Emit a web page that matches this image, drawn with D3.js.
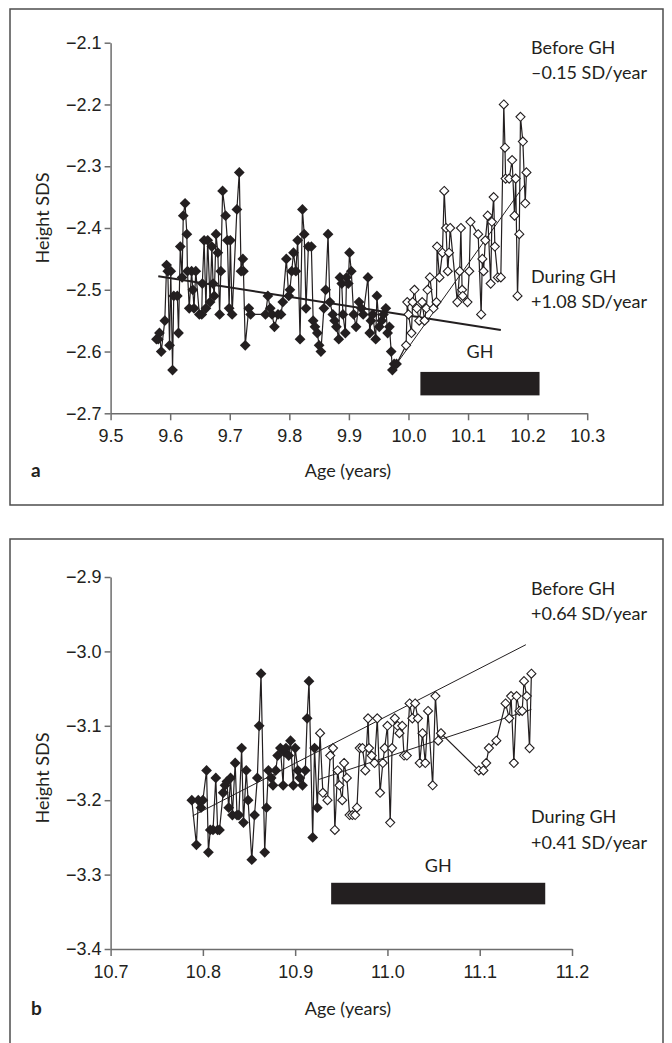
<!DOCTYPE html>
<html>
<head>
<meta charset="utf-8">
<script src="https://cdn.jsdelivr.net/npm/d3@7"></script>
<style>
  body { margin: 0; background: #fff; }
  svg { display: block; font-family: Lato, "Open Sans", sans-serif; }
  .axis path, .axis line { stroke: #6d6d6d; stroke-width: 1.5px; }
  .axis text { font-size: 18px; fill: #231f20; }
  .series { fill: none; stroke: #231f20; stroke-width: 1.2px; }
  .trend { fill: none; stroke: #231f20; }
  .note { font-size: 18px; fill: #231f20; }
</style>
</head>
<body>
<script>

/* Data, panel a */

var a_before_age = [9.577, 9.580, 9.582, 9.585, 9.591, 9.594, 9.596, 9.599, 9.601, 9.604,
    9.606, 9.612, 9.614, 9.617, 9.620, 9.622, 9.625, 9.628, 9.629, 9.632,
    9.636, 9.638, 9.640, 9.643, 9.649, 9.653, 9.654, 9.657, 9.660, 9.663,
    9.667, 9.670, 9.672, 9.674, 9.677, 9.680, 9.683, 9.685, 9.688, 9.693,
    9.696, 9.699, 9.701, 9.704, 9.712, 9.716, 9.719, 9.722, 9.723, 9.726,
    9.732, 9.735, 9.760, 9.764, 9.768, 9.771, 9.775, 9.781, 9.786, 9.789,
    9.795, 9.799, 9.801, 9.804, 9.807, 9.811, 9.814, 9.818, 9.822, 9.825,
    9.828, 9.832, 9.837, 9.840, 9.843, 9.847, 9.850, 9.853, 9.858, 9.861,
    9.865, 9.868, 9.873, 9.876, 9.879, 9.883, 9.885, 9.888, 9.890, 9.894,
    9.896, 9.899, 9.901, 9.904, 9.908, 9.912, 9.917, 9.921, 9.924, 9.932,
    9.935, 9.937, 9.940, 9.945, 9.947, 9.951, 9.955, 9.958, 9.962, 9.965,
    9.968, 9.971, 9.973, 9.976, 9.980];
var a_before_sds = [-2.58, -2.58, -2.57, -2.60, -2.55, -2.46, -2.47, -2.59, -2.47, -2.63,
    -2.51, -2.51, -2.57, -2.43, -2.48, -2.38, -2.36, -2.41, -2.47, -2.53,
    -2.47, -2.50, -2.53, -2.47, -2.54, -2.54, -2.49, -2.42, -2.53, -2.42,
    -2.52, -2.43, -2.49, -2.51, -2.41, -2.44, -2.54, -2.47, -2.34, -2.38,
    -2.42, -2.53, -2.42, -2.54, -2.37, -2.31, -2.47, -2.45, -2.47, -2.59,
    -2.53, -2.54, -2.54, -2.51, -2.53, -2.54, -2.56, -2.54, -2.54, -2.52,
    -2.45, -2.51, -2.50, -2.47, -2.44, -2.47, -2.42, -2.58, -2.37, -2.41,
    -2.53, -2.43, -2.43, -2.55, -2.56, -2.57, -2.59, -2.60, -2.53, -2.50,
    -2.41, -2.52, -2.54, -2.55, -2.56, -2.58, -2.48, -2.49, -2.54, -2.57,
    -2.48, -2.49, -2.44, -2.47, -2.54, -2.56, -2.52, -2.53, -2.54, -2.48,
    -2.57, -2.55, -2.54, -2.58, -2.51, -2.56, -2.55, -2.54, -2.53, -2.57,
    -2.56, -2.60, -2.63, -2.62, -2.62];

var a_during_age = [9.996, 9.998, 10.000, 10.005, 10.007, 10.010, 10.014, 10.018, 10.023, 10.027,
    10.030, 10.032, 10.036, 10.042, 10.047, 10.048, 10.052, 10.057, 10.060, 10.063,
    10.066, 10.068, 10.070, 10.082, 10.086, 10.088, 10.090, 10.091, 10.099, 10.102,
    10.104, 10.117, 10.122, 10.124, 10.126, 10.129, 10.133, 10.138, 10.140, 10.143,
    10.145, 10.150, 10.155, 10.160, 10.162, 10.163, 10.169, 10.174, 10.178, 10.180,
    10.183, 10.186, 10.188, 10.192, 10.196, 10.198];
var a_during_sds = [-2.59, -2.52, -2.54, -2.57, -2.52, -2.50, -2.53, -2.55, -2.52, -2.55,
    -2.53, -2.50, -2.48, -2.53, -2.52, -2.43, -2.48, -2.44, -2.34, -2.40,
    -2.47, -2.44, -2.40, -2.52, -2.47, -2.40, -2.50, -2.51, -2.52, -2.47,
    -2.39, -2.41, -2.54, -2.45, -2.47, -2.42, -2.38, -2.49, -2.39, -2.35,
    -2.43, -2.48, -2.48, -2.20, -2.27, -2.32, -2.32, -2.29, -2.38, -2.32,
    -2.51, -2.41, -2.22, -2.26, -2.36, -2.31];

// trend lines: [start age, end age], [start sds, end sds]
var a_trend_before_age = [9.580, 10.155];
var a_trend_before_sds = [-2.478, -2.565];
var a_trend_during_age = [9.977, 10.195];
var a_trend_during_sds = [-2.624, -2.330];

var a_gh_age = [10.02, 10.22];
var a_gh_sds = [-2.633, -2.671];

var a_x_ticks = [9.5, 9.6, 9.7, 9.8, 9.9, 10.0, 10.1, 10.2, 10.3];
var a_y_ticks = [-2.7, -2.6, -2.5, -2.4, -2.3, -2.2, -2.1];
var a_notes = ["Before GH", "\u20130.15 SD/year", "During GH", "+1.08 SD/year"];

/* Data, panel b */

var b_before_age = [10.788, 10.793, 10.795, 10.798, 10.800, 10.804, 10.806, 10.808, 10.811, 10.814,
    10.816, 10.818, 10.822, 10.824, 10.826, 10.828, 10.830, 10.832, 10.835, 10.837,
    10.839, 10.842, 10.844, 10.847, 10.849, 10.853, 10.856, 10.859, 10.861, 10.863,
    10.867, 10.869, 10.871, 10.874, 10.876, 10.879, 10.881, 10.884, 10.887, 10.888,
    10.890, 10.893, 10.895, 10.898, 10.900, 10.903, 10.905, 10.908, 10.911, 10.913,
    10.915, 10.919, 10.921, 10.924];
var b_before_sds = [-3.20, -3.26, -3.20, -3.21, -3.20, -3.16, -3.27, -3.24, -3.24, -3.17,
    -3.24, -3.24, -3.19, -3.18, -3.175, -3.21, -3.17, -3.22, -3.15, -3.22,
    -3.22, -3.13, -3.23, -3.16, -3.20, -3.28, -3.22, -3.17, -3.10, -3.03,
    -3.27, -3.21, -3.16, -3.17, -3.18, -3.16, -3.14, -3.13, -3.18, -3.135,
    -3.13, -3.14, -3.12, -3.18, -3.13, -3.16, -3.17, -3.18, -3.16, -3.09,
    -3.04, -3.25, -3.13, -3.21];

var b_during_age = [10.927, 10.930, 10.935, 10.938, 10.941, 10.943, 10.946, 10.948, 10.951, 10.953,
    10.956, 10.959, 10.962, 10.965, 10.967, 10.970, 10.973, 10.976, 10.979, 10.980,
    10.983, 10.986, 10.989, 10.992, 10.995, 10.997, 11.000, 11.003, 11.005, 11.008,
    11.011, 11.013, 11.016, 11.018, 11.021, 11.024, 11.027, 11.030, 11.033, 11.035,
    11.038, 11.041, 11.044, 11.049, 11.052, 11.055, 11.058, 11.099, 11.104, 11.107,
    11.110, 11.118, 11.128, 11.132, 11.134, 11.137, 11.140, 11.143, 11.146, 11.148,
    11.151, 11.154, 11.156];
var b_during_sds = [-3.11, -3.19, -3.20, -3.14, -3.13, -3.24, -3.16, -3.18, -3.20, -3.15,
    -3.17, -3.22, -3.22, -3.22, -3.21, -3.13, -3.13, -3.16, -3.09, -3.13,
    -3.14, -3.15, -3.09, -3.19, -3.15, -3.13, -3.10, -3.23, -3.13, -3.09,
    -3.10, -3.11, -3.10, -3.14, -3.14, -3.07, -3.09, -3.07, -3.09, -3.15,
    -3.11, -3.15, -3.08, -3.18, -3.06, -3.12, -3.11, -3.16, -3.16, -3.15,
    -3.13, -3.12, -3.07, -3.09, -3.06, -3.15, -3.06, -3.08, -3.08, -3.04,
    -3.06, -3.13, -3.03];

var b_trend_before_age = [10.789, 11.150];
var b_trend_before_sds = [-3.221, -2.991];
var b_trend_during_age = [10.926, 11.156];
var b_trend_during_sds = [-3.172, -3.078];

var b_gh_age = [10.939, 11.171];
var b_gh_sds = [-3.311, -3.340];

var b_x_ticks = [10.7, 10.8, 10.9, 11.0, 11.1, 11.2];
var b_y_ticks = [-3.4, -3.3, -3.2, -3.1, -3.0, -2.9];
var b_notes = ["Before GH", "+0.64 SD/year", "During GH", "+0.41 SD/year"];


var svg = d3.select("body").append("svg")
    .attr("width", 672)
    .attr("height", 1043);

var zip = function (xs, ys) {
    return xs.map(function (x, i) { return [x, ys[i]]; });
};

var fmt = function (v) {
    return d3.format(".1f")(v).replace("-", "\u2212");
};

var draw_panel = function (p) {
    // frame
    svg.append("rect")
        .attr("x", 10).attr("y", p.frame[0])
        .attr("width", 653).attr("height", p.frame[1] - p.frame[0])
        .attr("fill", "none")
        .attr("stroke", "#4d4d4d")
        .attr("stroke-width", 1.5);

    var x = d3.scaleLinear().domain(d3.extent(p.x_ticks)).range(p.x_range);
    var y = d3.scaleLinear().domain(d3.extent(p.y_ticks)).range(p.y_range);
    var g = svg.append("g");

    // axes
    g.append("g")
        .attr("class", "axis")
        .attr("transform", "translate(0," + p.y_range[0] + ")")
        .call(d3.axisBottom(x).tickValues(p.x_ticks).tickSize(7)
            .tickPadding(6).tickSizeOuter(0).tickFormat(d3.format(".1f")))
        .call(function (s) { s.selectAll("text").attr("dy", "0.9em"); });

    g.append("g")
        .attr("class", "axis")
        .attr("transform", "translate(" + p.x_range[0] + ",0)")
        .call(d3.axisLeft(y).tickValues(p.y_ticks).tickSize(6)
            .tickPadding(3).tickSizeOuter(0).tickFormat(fmt));

    var line = d3.line()
        .x(function (d) { return x(d[0]); })
        .y(function (d) { return y(d[1]); });

    var before = zip(p.before_age, p.before_sds);
    var during = zip(p.during_age, p.during_sds);

    // connecting line through both periods
    g.append("path")
        .classed("series", true)
        .attr("d", line(before.concat(during)));

    // trend lines
    g.append("path")
        .classed("trend", true)
        .attr("stroke-width", p.before_width)
        .attr("d", line(zip(p.trend_before_age, p.trend_before_sds)));
    g.append("path")
        .classed("trend", true)
        .attr("stroke-width", 1)
        .attr("d", line(zip(p.trend_during_age, p.trend_during_sds)));

    // markers
    g.selectAll(".before")
        .data(before)
        .enter().append("path")
        .classed("before", true)
        .attr("transform", function (d) {
            return "translate(" + x(d[0]) + "," + y(d[1]) + ")"; })
        .attr("d", d3.symbol().type(d3.symbolDiamond2).size(74))
        .attr("fill", "#231f20");

    g.selectAll(".during")
        .data(during)
        .enter().append("path")
        .classed("during", true)
        .attr("transform", function (d) {
            return "translate(" + x(d[0]) + "," + y(d[1]) + ")"; })
        .attr("d", d3.symbol().type(d3.symbolDiamond2).size(52))
        .attr("fill", "#fff")
        .attr("stroke", "#231f20")
        .attr("stroke-width", 1.1);

    // GH bar
    g.append("rect")
        .attr("x", x(p.gh_age[0]))
        .attr("y", y(p.gh_sds[0]))
        .attr("width", x(p.gh_age[1]) - x(p.gh_age[0]))
        .attr("height", y(p.gh_sds[1]) - y(p.gh_sds[0]))
        .attr("fill", "#231f20");

    g.append("text")
        .classed("note", true)
        .attr("x", (x(p.gh_age[0]) + x(p.gh_age[1])) / 2)
        .attr("y", p.gh_label_y)
        .attr("text-anchor", "middle")
        .text("GH");

    // notes on the right
    g.selectAll(".side")
        .data(p.notes)
        .enter().append("text")
        .classed("note", true)
        .attr("x", 531)
        .attr("y", function (d, i) { return p.note_y[i]; })
        .text(function (d) { return d; });

    // axis titles
    g.append("text")
        .classed("note", true)
        .attr("transform", "translate(49," + p.ytitle_y + ") rotate(-90)")
        .attr("text-anchor", "middle")
        .text("Height SDS");

    g.append("text")
        .classed("note", true)
        .attr("x", 348)
        .attr("y", p.xtitle_y)
        .attr("text-anchor", "middle")
        .text("Age (years)");

    g.append("text")
        .attr("x", 31)
        .attr("y", p.xtitle_y)
        .style("font-size", "19px")
        .style("font-weight", "bold")
        .attr("fill", "#231f20")
        .text(p.letter);
};

draw_panel({
    letter: "a",
    frame: [9, 505],
    x_range: [110.6, 587.2],
    y_range: [413.3, 42.7],
    x_ticks: a_x_ticks, y_ticks: a_y_ticks,
    before_age: a_before_age, before_sds: a_before_sds,
    during_age: a_during_age, during_sds: a_during_sds,
    trend_before_age: a_trend_before_age, trend_before_sds: a_trend_before_sds,
    trend_during_age: a_trend_during_age, trend_during_sds: a_trend_during_sds,
    before_width: 2,
    gh_age: a_gh_age, gh_sds: a_gh_sds,
    gh_label_y: 358,
    notes: a_notes,
    note_y: [54, 79, 283, 308],
    ytitle_y: 218,
    xtitle_y: 477
});

draw_panel({
    letter: "b",
    frame: [539, 1050],
    x_range: [110.6, 572],
    y_range: [949, 577],
    x_ticks: b_x_ticks, y_ticks: b_y_ticks,
    before_age: b_before_age, before_sds: b_before_sds,
    during_age: b_during_age, during_sds: b_during_sds,
    trend_before_age: b_trend_before_age, trend_before_sds: b_trend_before_sds,
    trend_during_age: b_trend_during_age, trend_during_sds: b_trend_during_sds,
    before_width: 1,
    gh_age: b_gh_age, gh_sds: b_gh_sds,
    gh_label_y: 872,
    notes: b_notes,
    note_y: [595, 620, 823, 849],
    ytitle_y: 778,
    xtitle_y: 1015
});

</script>
</body>
</html>
